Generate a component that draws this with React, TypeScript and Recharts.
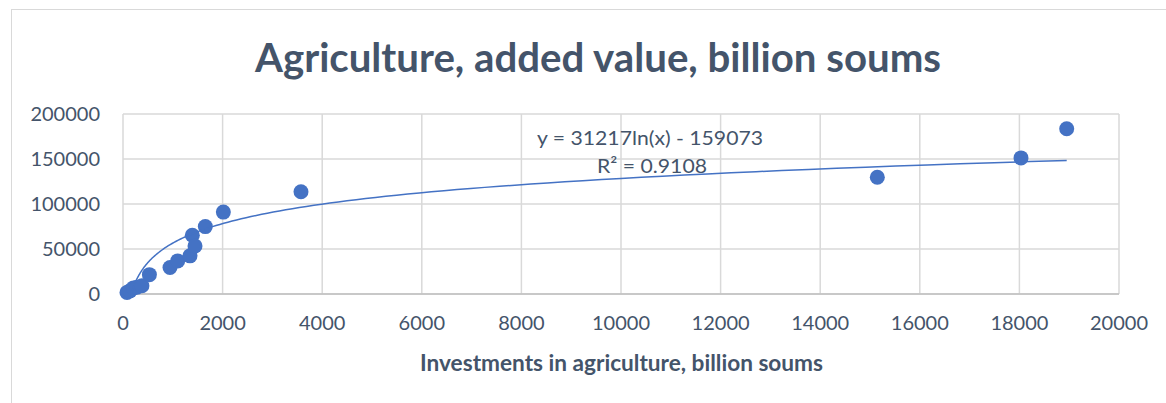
import { ScatterChart, Scatter, XAxis, YAxis, CartesianGrid } from 'recharts';

// investments in agriculture (x) and agriculture added value (y), billion soums
const investments = [80, 140, 210, 280, 380, 530, 944, 1098, 1345, 1392, 1446, 1653, 2015, 3574, 15147, 18032, 18950];
const addedValue = [1800, 3500, 6800, 7500, 9200, 21500, 29500, 36800, 42400, 65300, 53400, 74900, 91000, 113600, 129800, 151200, 183600];

const xTicks = [0, 2000, 4000, 6000, 8000, 10000, 12000, 14000, 16000, 18000, 20000];
const yTicks = [0, 50000, 100000, 150000, 200000];

// logarithmic trendline as printed on the chart
const trendSlope = 31217;
const trendIntercept = -159073;
const trendR2 = 0.9108;

const FONT = 'Lato, "Open Sans", sans-serif';
const TEXT = '#44546A';
const BLUE = '#4472C4';

const points = investments.map((x, i) => ({ x, y: addedValue[i] }));

// sample the printed trend equation between where it crosses 0 and the largest x
const trendStart = Math.exp(-trendIntercept / trendSlope);
const trendEnd = Math.max(...investments);
const trend = Array.from({ length: 120 }, (_, i) => {
  const x = trendStart * Math.pow(trendEnd / trendStart, i / 119);
  return { x, y: trendSlope * Math.log(x) + trendIntercept };
});

const Dot = (props: any) => <circle cx={props.cx} cy={props.cy} r={7.5} fill={BLUE} />;

export default function App() {
  return (
    <div style={{ position: 'absolute', left: 0, top: 0, width: 1166, height: 403, background: '#fff', overflow: 'hidden' }}>
      <ScatterChart width={1166} height={403} margin={{ top: 114, right: 47, bottom: 0, left: 0 }}>
        <CartesianGrid stroke="#D9D9D9" strokeWidth={1.5} />
        <XAxis
          type="number"
          dataKey="x"
          domain={[0, 20000]}
          ticks={xTicks}
          height={109}
          tickLine={false}
          tickSize={0}
          tickMargin={22}
          axisLine={{ stroke: '#BFBFBF', strokeWidth: 1.5 }}
          tick={{ fill: TEXT, fontSize: 20, fontFamily: FONT }}
          interval={0}
        />
        <YAxis
          type="number"
          dataKey="y"
          domain={[0, 200000]}
          ticks={yTicks}
          width={123}
          tickLine={false}
          axisLine={false}
          tickSize={0}
          tickMargin={23}
          tick={{ fill: TEXT, fontSize: 20, fontFamily: FONT }}
          interval={0}
        />
        <Scatter data={points} shape={Dot} isAnimationActive={false} />
        <Scatter
          data={trend}
          line={{ stroke: BLUE, strokeWidth: 1.5 }}
          shape={() => null}
          isAnimationActive={false}
        />
      </ScatterChart>
      <svg width={1166} height={403} style={{ position: 'absolute', left: 0, top: 0, pointerEvents: 'none' }}>
        <rect x={11.5} y={9.5} width={1300} height={500} fill="none" stroke="#D9D9D9" />
        <text x={255} y={72} fontFamily={FONT} fontWeight={700} fontSize={40} fill={TEXT} textLength={686} lengthAdjust="spacingAndGlyphs">
          Agriculture, added value, billion soums
        </text>
        <text x={537} y={145} fontFamily={FONT} fontSize={20} fill={TEXT} textLength={226} lengthAdjust="spacingAndGlyphs">
          {`y = ${trendSlope}ln(x) - ${Math.abs(trendIntercept)}`}
        </text>
        <text x={597} y={173} fontFamily={FONT} fontSize={20} fill={TEXT} textLength={110} lengthAdjust="spacingAndGlyphs">
          {`R² = ${trendR2}`}
        </text>
        <text x={420} y={371} fontFamily={FONT} fontWeight={700} fontSize={22} fill={TEXT} textLength={403} lengthAdjust="spacingAndGlyphs">
          Investments in agriculture, billion soums
        </text>
      </svg>
    </div>
  );
}
